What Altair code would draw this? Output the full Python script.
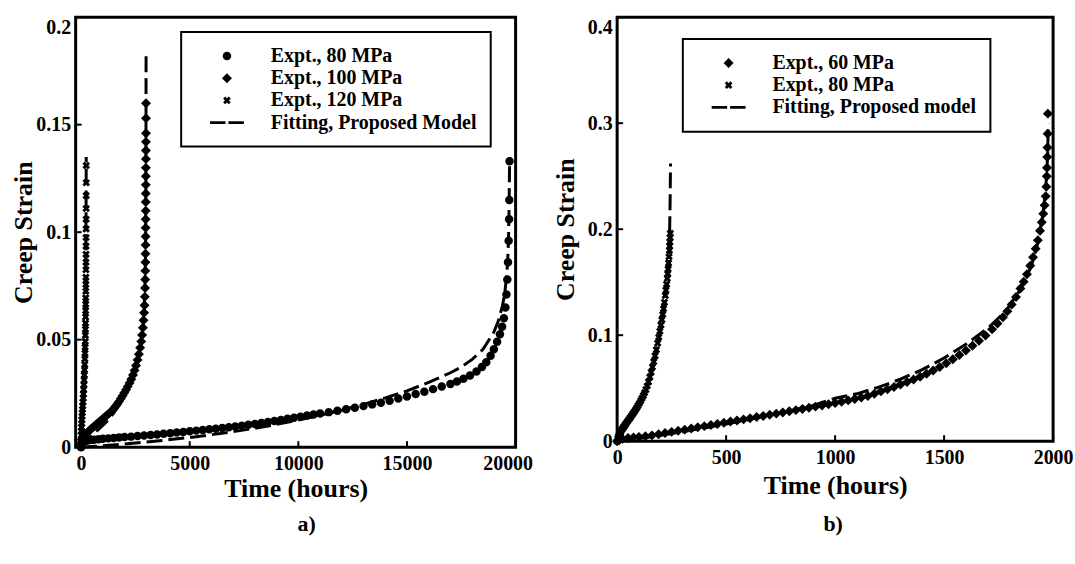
import math
import altair as alt
import pandas as pd

F = "Liberation Serif"

# ---------------- panel a) ----------------
a_series = ["Expt., 80 MPa", "Expt., 100 MPa", "Expt., 120 MPa", "Fitting, Proposed Model"]
a_xticks = [0, 5000, 10000, 15000, 20000]
a_yticks = [0, 0.05, 0.1, 0.15, 0.2]

a_t80 = [0, 20, 60, 120, 200, 300, 450, 600, 800, 1000, 1250, 1500, 1750, 2000, 2300, 2600, 2900,
         3200, 3500, 3800, 4100, 4400, 4700, 5000, 5300, 5600, 5900, 6200, 6500, 6800, 7100, 7400,
         7700, 8000, 8300, 8600, 8900, 9200, 9500, 9800, 10100, 10400, 10700, 11000, 11400, 11800,
         12200, 12600, 13000, 13400, 13800, 14200, 14600, 15000, 15400, 15800, 16200, 16600, 17000,
         17300, 17600, 17900, 18200, 18450, 18650, 18850, 19000, 19150, 19280, 19380, 19460, 19530,
         19580, 19620, 19650, 19680, 19700, 19710, 19720]
a_s80 = [0.0, 0.0015, 0.0022, 0.0026, 0.0029, 0.0031, 0.0033, 0.0035, 0.0037, 0.0039, 0.0041, 0.0043,
         0.0045, 0.0047, 0.0049, 0.0052, 0.0054, 0.0057, 0.0059, 0.0062, 0.0065, 0.0068, 0.0071,
         0.0074, 0.0077, 0.0080, 0.0083, 0.0086, 0.0089, 0.0093, 0.0096, 0.0100, 0.0104, 0.0108,
         0.0112, 0.0117, 0.0122, 0.0127, 0.0132, 0.0137, 0.0142, 0.0147, 0.0152, 0.0157, 0.0163,
         0.0169, 0.0176, 0.0183, 0.0191, 0.0199, 0.0207, 0.0216, 0.0226, 0.0236, 0.0247, 0.0258,
         0.0270, 0.0282, 0.0294, 0.0305, 0.0318, 0.0333, 0.0352, 0.0373, 0.0395, 0.0425, 0.0455,
         0.0490, 0.0525, 0.0560, 0.0600, 0.0650, 0.0710, 0.0780, 0.0860, 0.0960, 0.1060, 0.1150,
         0.1330]

a_t100 = [0, 30, 80, 150, 230, 310, 390, 470, 550, 630, 710, 790, 870, 950, 1030, 1110, 1190, 1270,
          1350, 1430, 1510, 1590, 1670, 1750, 1830, 1910, 1990, 2070, 2150, 2230, 2310, 2390, 2460,
          2530, 2600, 2660, 2720, 2770, 2810, 2845, 2875, 2900, 2920, 2935, 2945, 2952, 2957, 2961,
          2964, 2967, 2969, 2971, 2973, 2975, 2977, 2978, 2980, 2981, 2983, 2984, 2985, 2986, 2987,
          2988, 2989]
a_s100 = [0.0020, 0.0035, 0.0045, 0.0054, 0.0062, 0.0070, 0.0078, 0.0086, 0.0093, 0.0100, 0.0107,
          0.0114, 0.0121, 0.0128, 0.0135, 0.0142, 0.0149, 0.0156, 0.0163, 0.0171, 0.0180, 0.0190,
          0.0201, 0.0213, 0.0226, 0.0239, 0.0253, 0.0267, 0.0282, 0.0298, 0.0316, 0.0336, 0.0357,
          0.0380, 0.0406, 0.0432, 0.0462, 0.0492, 0.0522, 0.0555, 0.0590, 0.0625, 0.0660, 0.0700,
          0.0740, 0.0780, 0.0820, 0.0860, 0.0900, 0.0940, 0.0980, 0.1020, 0.1060, 0.1100, 0.1140,
          0.1180, 0.1220, 0.1260, 0.1300, 0.1340, 0.1380, 0.1420, 0.1460, 0.1530, 0.1600]

a_t120 = [0, 3, 8, 14, 20, 28, 36, 45, 55, 65, 75, 86, 97, 108, 119, 130, 140, 150, 159, 167, 174,
          181, 187, 192, 197, 201, 205, 208, 211, 214, 216, 218, 220, 222, 224, 226, 228, 229, 231,
          232, 233, 234, 235, 236, 237]
a_s120 = [0.0, 0.003, 0.0055, 0.0075, 0.0092, 0.011, 0.0127, 0.0144, 0.016, 0.0176, 0.0192, 0.021,
          0.0228, 0.0247, 0.0268, 0.029, 0.0312, 0.0336, 0.036, 0.0385, 0.041, 0.0437, 0.0465,
          0.0492, 0.052, 0.0548, 0.0577, 0.0605, 0.0635, 0.0665, 0.0695, 0.0725, 0.0757, 0.079,
          0.0825, 0.086, 0.0897, 0.0935, 0.0975, 0.1015, 0.106, 0.111, 0.117, 0.123, 0.131]

a_fit80_t = [0, 500, 1000, 2000, 3000, 4000, 5000, 6000, 7000, 8000, 9000, 10000, 11000, 12000,
             13000, 14000, 15000, 16000, 17000, 17500, 18000, 18500, 19000, 19200, 19400, 19500,
             19600, 19650, 19680, 19700, 19715, 19725]
a_fit80_s = [0.0, 0.0003, 0.0007, 0.0015, 0.0024, 0.0034, 0.0045, 0.0058, 0.0072, 0.0088, 0.0106,
             0.0126, 0.0148, 0.0172, 0.0199, 0.0229, 0.0262, 0.0301, 0.0346, 0.0373, 0.0408, 0.0455,
             0.0535, 0.0585, 0.0660, 0.0715, 0.0810, 0.0900, 0.1000, 0.1120, 0.1250, 0.1350]
a_fit100_t = [0, 100, 250, 500, 750, 1000, 1250, 1500, 1750, 2000, 2250, 2500, 2700, 2830, 2900,
              2945, 2970, 2982, 2988, 2992]
a_fit100_s = [0.0, 0.0008, 0.0025, 0.0055, 0.0078, 0.0101, 0.0127, 0.0158, 0.0196, 0.0243, 0.0300,
              0.0370, 0.0450, 0.0540, 0.0630, 0.0760, 0.0950, 0.1200, 0.1500, 0.1820]
a_fit120_t = [0, 50, 100, 150, 185, 208, 222, 231, 237]
a_fit120_s = [0.0, 0.014, 0.024, 0.038, 0.055, 0.075, 0.095, 0.115, 0.135]

# ---------------- panel b) ----------------
b_series = ["Expt., 60 MPa", "Expt., 80 MPa", "Fitting, Proposed model"]
b_xticks = [0, 500, 1000, 1500, 2000]
b_yticks = [0, 0.1, 0.2, 0.3, 0.4]

b_t60 = [0, 10, 25, 50, 75, 100, 130, 160, 190, 220, 250, 280, 310, 340, 370, 400, 430, 460, 490,
         520, 550, 580, 610, 640, 670, 700, 730, 760, 790, 820, 850, 880, 910, 940, 970, 1000, 1030,
         1060, 1090, 1120, 1150, 1180, 1210, 1240, 1270, 1300, 1330, 1360, 1390, 1420, 1450, 1480,
         1510, 1540, 1570, 1600, 1630, 1660, 1690, 1720, 1745, 1770, 1790, 1810, 1830, 1850, 1865,
         1880, 1895, 1908, 1920, 1930, 1940, 1948, 1955, 1961, 1966, 1969, 1971, 1972, 1973, 1974,
         1975, 1976]
b_s60 = [0.0, 0.0012, 0.0022, 0.0030, 0.0036, 0.0041, 0.0046, 0.0055, 0.0066, 0.0077, 0.0088, 0.0098,
         0.0109, 0.0120, 0.0131, 0.0142, 0.0152, 0.0163, 0.0174, 0.0185, 0.0195, 0.0206, 0.0217,
         0.0228, 0.0238, 0.0249, 0.0260, 0.0271, 0.0282, 0.0293, 0.0304, 0.0315, 0.0326, 0.0337,
         0.0348, 0.0360, 0.0372, 0.0385, 0.0398, 0.0412, 0.0427, 0.0447, 0.0470, 0.0490, 0.0512,
         0.0535, 0.0558, 0.0582, 0.0608, 0.0636, 0.0667, 0.0700, 0.0736, 0.0774, 0.0814, 0.0856,
         0.0900, 0.0947, 0.0998, 0.1055, 0.1110, 0.1170, 0.1225, 0.1290, 0.1360, 0.1440, 0.1505,
         0.1575, 0.1655, 0.1735, 0.1815, 0.1895, 0.1985, 0.2065, 0.2145, 0.2225, 0.2310, 0.2400,
         0.2500, 0.2580, 0.2680, 0.2770, 0.2900, 0.3090]

b_t80 = [0, 3, 6, 10, 14, 18, 22, 27, 32, 37, 42, 48, 54, 60, 66, 72, 78, 84, 90, 96, 102, 108, 114,
         120, 126, 132, 138, 144, 150, 156, 162, 168, 174, 180, 186, 191, 196, 201, 205, 209, 213,
         217, 221, 224, 227, 230, 232, 234, 236, 238, 240, 241, 242, 243, 244]
b_s80 = [0.0, 0.0025, 0.0045, 0.0065, 0.008, 0.0095, 0.011, 0.0125, 0.014, 0.0155, 0.017, 0.0188,
         0.0205, 0.0222, 0.024, 0.0258, 0.0276, 0.0295, 0.0315, 0.0336, 0.0358, 0.0381, 0.0405,
         0.043, 0.0457, 0.0487, 0.0521, 0.056, 0.0605, 0.065, 0.070, 0.075, 0.0805, 0.0862, 0.0925,
         0.098, 0.1037, 0.1095, 0.1145, 0.1195, 0.125, 0.131, 0.1375, 0.1425, 0.148, 0.1535, 0.158,
         0.1625, 0.168, 0.174, 0.18, 0.184, 0.188, 0.192, 0.196]

b_fit60_t = [0, 50, 100, 200, 300, 400, 500, 600, 700, 800, 900, 1000, 1100, 1200, 1300, 1400, 1500,
             1600, 1700, 1780, 1850, 1900, 1930, 1950, 1962, 1970, 1975, 1978]
b_fit60_s = [0.0, 0.0012, 0.0025, 0.0055, 0.0088, 0.0125, 0.0163, 0.0202, 0.0245, 0.0290, 0.0338,
             0.0405, 0.0447, 0.0510, 0.0585, 0.0675, 0.0785, 0.0915, 0.1065, 0.1220, 0.1430, 0.1650,
             0.1870, 0.2100, 0.2300, 0.2500, 0.2700, 0.3000]
b_fit80_t = [0, 10, 25, 50, 75, 100, 125, 150, 175, 200, 215, 225, 233, 238, 241, 243, 244, 245]
b_fit80_s = [0.0, 0.005, 0.011, 0.019, 0.027, 0.035, 0.046, 0.060, 0.080, 0.106, 0.127, 0.145,
             0.163, 0.180, 0.200, 0.225, 0.245, 0.262]

# ---------------- marker shapes (unit = sqrt(size)/2 px) ----------------
CIRCLE = "M-0.85,0 A0.85,0.85 0 1,0 0.85,0 A0.85,0.85 0 1,0 -0.85,0 Z"
DIAMOND = "M0,-1.0 L1.0,0 L0,1.0 L-1.0,0 Z"


def xmark(L=1.0, h=0.36, k=0.8):
    pts = [(-h, -L), (h, -L), (h, -h), (L, -h), (L, h), (h, h), (h, L), (-h, L), (-h, h), (-L, h),
           (-L, -h), (-h, -h)]
    r = [((x - y) / math.sqrt(2) * k, (x + y) / math.sqrt(2) * k) for x, y in pts]
    return "M" + " L".join(f"{x:.3f},{y:.3f}" for x, y in r) + " Z"


XMARK = xmark()
DASH = ("M-3.4,-0.28 L-0.3,-0.28 L-0.3,0.28 L-3.4,0.28 Z "
        "M0.3,-0.28 L3.4,-0.28 L3.4,0.28 L0.3,0.28 Z")


def frame(ts, ss, name):
    return pd.DataFrame({"t": ts, "s": ss, "series": name})


def panel(pts, fits, series, shapes, xdom, ydom, xticks, yticks, W, H, xflush, xflushoff,
          xtitleY, ytop, legX, legY, lab, labX):
    xs = alt.Scale(domain=xdom, nice=False, zero=False)
    ys = alt.Scale(domain=ydom, nice=False, zero=False)
    xax = alt.Axis(values=xticks, format="d", title="Time (hours)", grid=False, domain=False,
                   ticks=False, tickSize=0, labelPadding=6, labelFlush=xflush,
                   labelFlushOffset=xflushoff, titleX=W / 2, titleY=xtitleY,
                   titleBaseline="middle", titleAlign="center")
    yax = alt.Axis(values=yticks, format="~g", title="Creep Strain", grid=False, domain=False,
                   ticks=False, tickSize=0, labelPadding=5, labelFlush=False,
                   labelBaseline=alt.condition(f"datum.value >= {ytop}", alt.value("top"),
                                               alt.value("middle")),
                   titleX=-52, titleY=H / 2, titleBaseline="middle", titleAlign="center")
    X = alt.X("t:Q", scale=xs, axis=xax)
    Y = alt.Y("s:Q", scale=ys, axis=yax)

    points = alt.Chart(pts).mark_point(filled=True, color="black", size=100, opacity=1).encode(
        x=X, y=Y,
        shape=alt.Shape("series:N", scale=alt.Scale(domain=series, range=shapes),
                        legend=alt.Legend(orient="none", legendX=legX, legendY=legY, title=None,
                                          padding=14, symbolOffset=22, labelOffset=34,
                                          rowPadding=2.3, symbolSize=100, labelLimit=400,
                                          symbolFillColor="black", symbolStrokeWidth=0,
                                          strokeColor="black")))
    lines = alt.Chart(fits).mark_line(color="black", strokeWidth=3, strokeDash=[16, 6]).encode(
        x=X, y=Y, detail="series:N")
    xt = alt.Chart(pd.DataFrame({"t": xticks})).mark_rule(color="black", strokeWidth=2).encode(
        x=X, y=alt.value(H), y2=alt.value(H - 6))
    yt = alt.Chart(pd.DataFrame({"s": yticks})).mark_rule(color="black", strokeWidth=2).encode(
        y=Y, x=alt.value(0), x2=alt.value(6))
    txt = alt.Chart(pd.DataFrame({"lab": [lab]})).mark_text(
        font=F, fontSize=22, fontWeight="bold", color="black").encode(
        x=alt.value(labX), y=alt.value(509), text="lab:N")
    return alt.layer(points, lines, xt, yt, txt).properties(width=W, height=H)


a_pts = pd.concat([frame(a_t80, a_s80, a_series[0]), frame(a_t100, a_s100, a_series[1]),
                   frame(a_t120, a_s120, a_series[2])])
a_fit = pd.concat([frame(a_fit80_t, a_fit80_s, "f80"), frame(a_fit100_t, a_fit100_s, "f100"),
                   frame(a_fit120_t, a_fit120_s, "f120")])
b_pts = pd.concat([frame(b_t60, b_s60, b_series[0]), frame(b_t80, b_s80, b_series[1])])
b_fit = pd.concat([frame(b_fit60_t, b_fit60_s, "f60"), frame(b_fit80_t, b_fit80_s, "f80")])

left = panel(a_pts, a_fit, a_series, [CIRCLE, DIAMOND, XMARK, DASH], [-250, 20000], [0, 0.2],
             a_xticks, a_yticks, 442, 432, 3, 17, 42, 0.19, 106, 15, "a)", 232)
right = panel(b_pts, b_fit, b_series, [DIAMOND, XMARK, DASH], [0, 2000], [0, 0.4],
              b_xticks, b_yticks, 438, 426, False, 0, 45, 0.39, 66, 22, "b)", 217)

chart = alt.hconcat(left, right, spacing=16).resolve_scale(
    x="independent", y="independent", shape="independent").resolve_legend(
    shape="independent").properties(
    padding={"left": 9, "top": 13, "right": 0, "bottom": 0}
).configure_view(stroke="black", strokeWidth=3).configure_axis(
    labelFont=F, labelFontSize=20, labelFontWeight="bold", labelColor="black",
    titleFont=F, titleFontSize=26, titleFontWeight="bold", titleColor="black"
).configure_legend(
    labelFont=F, labelFontSize=20, labelFontWeight="bold", labelColor="black",
    strokeWidth=2
)

chart.save("out.html", embed_options={"renderer": "svg", "actions": False})
